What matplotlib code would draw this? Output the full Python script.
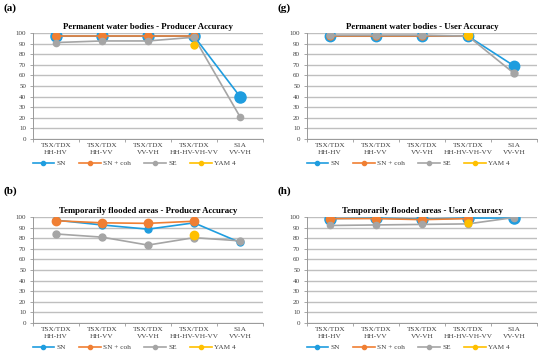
import numpy as np
import matplotlib
matplotlib.use("Agg")
import matplotlib.pyplot as plt
from matplotlib.lines import Line2D

categories = ["TSX/TDX\nHH-HV", "TSX/TDX\nHH-VV", "TSX/TDX\nVV-VH", "TSX/TDX\nHH-HV-VH-VV", "S1A\nVV-VH"]
series_names = ["SN", "SN + coh", "SE", "YAM 4"]
nan = np.nan

a_sn = [97, 97, 97, 97, 40]
a_coh = [97, 97, 97, 97, nan]
a_se = [91, 92.5, 92.5, 96, 21]
a_yam = [nan, nan, nan, 89, nan]

g_sn = [97, 97, 97, 97, 69]
g_coh = [97, 97, 97, 97, nan]
g_se = [98, 98, 98, 97, 62]
g_yam = [nan, nan, nan, 98, nan]

b_sn = [97, 92.5, 88.5, 94.5, 76]
b_coh = [96.5, 94.5, 94, 96, nan]
b_se = [84, 81, 73.5, 80.5, 77.5]
b_yam = [nan, nan, nan, 83, nan]

h_sn = [98.5, 99, 98, 99, 99]
h_coh = [98.5, 98.5, 97.5, 98.5, nan]
h_se = [92, 92.5, 93, 93.5, 99.5]
h_yam = [nan, nan, nan, 94, nan]

titles = {
    "a": "Permanent water bodies - Producer Accuracy",
    "g": "Permanent water bodies - User Accuracy",
    "b": "Temporarily flooded areas - Producer Accuracy",
    "h": "Temporarily flooded areas - User Accuracy",
}

colors = ["#1f9ddf", "#f07f33", "#a5a5a5", "#ffc000"]
# marker sizes per panel (SN, SN+coh, SE, YAM4)
msizes = {
    "a": [8, 5.5, 4.5, 5],
    "g": [7.5, 5, 5, 6],
    "b": [5, 6, 5, 6],
    "h": [8, 6, 4.5, 5],
}

plt.rcParams['font.family'] = ['Liberation Serif', 'DejaVu Serif']

fig = plt.figure(figsize=(5.5, 3.55), dpi=100)
W, H = 550, 355

def add_panel(key, left_px, top_px, data, label_y_px):
    ax = fig.add_axes([left_px / W, 1 - (top_px + 106) / H, 230 / W, 106 / H])
    x = np.arange(len(categories))
    handles = []
    for i, (vals, name) in enumerate(zip(data, series_names)):
        vals = np.asarray(vals, dtype=float)
        ax.plot(x, vals, color=colors[i], lw=1.2, marker='o',
                ms=msizes[key][i], zorder=3 + i)
        handles.append(Line2D([], [], color=colors[i], lw=1.2, marker='o', ms=3, label=name))
    ax.set_xlim(-0.5, 4.5)
    ax.set_ylim(0, 100)
    ax.set_yticks(np.arange(0, 101, 10))
    ax.yaxis.grid(True, color='#bfbfbf', lw=1.0)
    ax.set_axisbelow(True)
    for s in ['top', 'right']:
        ax.spines[s].set_visible(False)
    ax.spines['left'].set_color('#999999')
    ax.spines['bottom'].set_color('#999999')
    ax.spines['left'].set_linewidth(0.7)
    ax.spines['bottom'].set_linewidth(0.7)
    ax.tick_params(axis='y', labelsize=5, length=2, width=0.6, color='#999999', pad=3, labelcolor='#404040')
    ax.set_xticks(np.arange(-0.5, 5.0, 1.0))
    ax.set_xticklabels([])
    ax.set_xticks(x, minor=True)
    ax.set_xticklabels(categories, minor=True, fontsize=5.2, color='#404040', linespacing=1.55)
    ax.tick_params(axis='x', which='major', length=2.5, width=0.6, color='#999999')
    ax.tick_params(axis='x', which='minor', length=0, pad=3)
    ax.set_title(titles[key], fontsize=6.3, fontweight='bold', pad=3)
    leg = ax.legend(handles=handles, loc='center', bbox_to_anchor=(0.44, -0.23),
                    ncol=4, frameon=False, fontsize=5.2, handlelength=3.0,
                    columnspacing=1.8, handletextpad=0.35, borderpad=0, borderaxespad=0)
    for t in leg.get_texts():
        t.set_color('#404040')
    fig.text((left_px - 30) / W, 1 - label_y_px / H, f"({key})", fontsize=8,
             fontweight='bold', va='center', ha='left')
    return ax

add_panel("a", 33, 33, [a_sn, a_coh, a_se, a_yam], 8)
add_panel("g", 307, 33, [g_sn, g_coh, g_se, g_yam], 8)
add_panel("b", 33, 217, [b_sn, b_coh, b_se, b_yam], 191)
add_panel("h", 307, 217, [h_sn, h_coh, h_se, h_yam], 191)

fig.savefig("out.png", dpi=100)
